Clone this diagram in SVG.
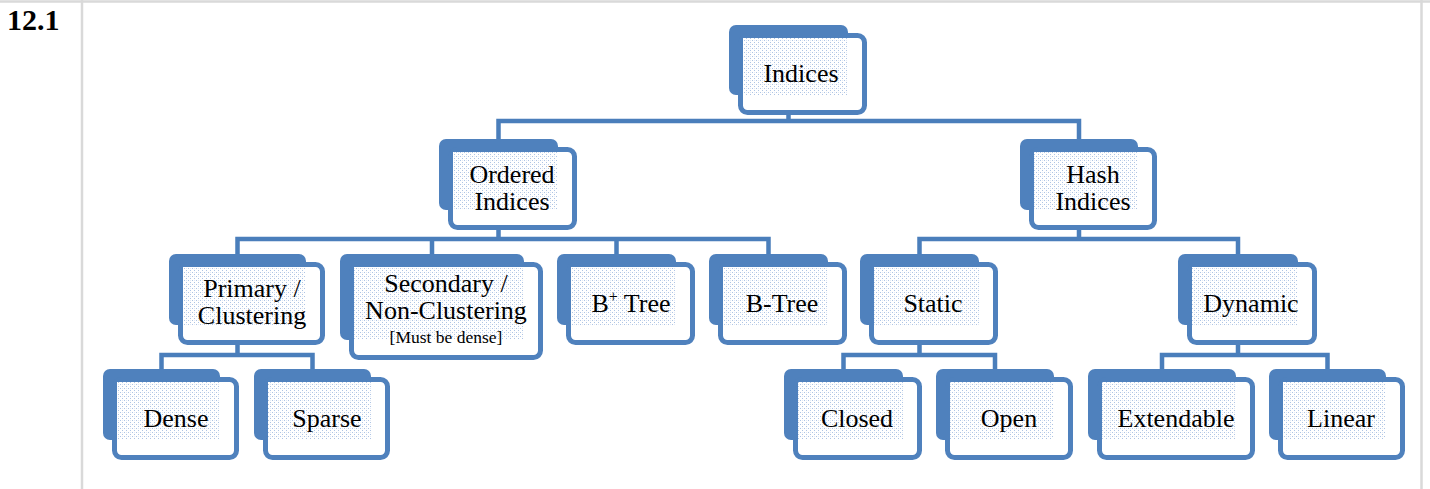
<svg xmlns="http://www.w3.org/2000/svg" width="1430" height="489" viewBox="0 0 1430 489">
  <style>
    .grid { stroke: #d9d9d9; stroke-width: 2.5; fill: none; }
    .back { fill: #4f81bd; }
    .front { fill: #ffffff; stroke: #4f81bd; stroke-width: 5; }
    .dots { fill: url(#dither); }
    .link { fill: none; stroke: #4a7ebb; stroke-width: 4.5; stroke-linejoin: miter; }
    .lbl { font-family: "Liberation Serif", "Times New Roman", serif; font-size: 26px; fill: #000; text-anchor: middle; }
    .note { font-size: 17.5px; }
    .num { font-family: "Liberation Serif", "Times New Roman", serif; font-size: 30px; font-weight: bold; fill: #000; }
  </style>
  <defs>
    <pattern id="dither" width="4" height="4" patternUnits="userSpaceOnUse">
      <rect width="4" height="4" fill="#ffffff"/>
      <rect x="0" y="0" width="1" height="1" fill="#aec4e4"/>
      <rect x="2" y="2" width="1" height="1" fill="#aec4e4"/>
      <rect x="2" y="0" width="1" height="1" fill="#e3eaf5"/>
    </pattern>
  </defs>

  <rect width="1430" height="489" fill="#ffffff"/>

  <!-- table cell borders -->
  <g id="table">
    <line class="grid" x1="0" y1="1.5" x2="1430" y2="1.5"/>
    <line class="grid" x1="82" y1="0" x2="82" y2="489"/>
    <line class="grid" x1="1421.5" y1="0" x2="1421.5" y2="489"/>
  </g>
  <text class="num" x="7" y="30">12.1</text>

  <!-- connectors -->
  <g id="connectors">
    <path class="link" d="M788.5 115 V121 M498.5 139 V121 H1079 V139"/>
    <path class="link" d="M498.5 230 V239 M237.5 254 V239 H768.5 V254 M432 239 V254 M616.5 239 V254"/>
    <path class="link" d="M1079 230 V239 M919.5 254 V239 H1238 V254"/>
    <path class="link" d="M237.5 345 V355 M161.5 369 V355 H312.5 V369"/>
    <path class="link" d="M919.5 345 V355 M843.5 369 V355 H995 V369"/>
    <path class="link" d="M1238 345 V355 M1162 369 V355 H1327.5 V369"/>
  </g>

  <!-- nodes: back plate, framed front card, tinted overlap, label -->
  <g id="n-indices">
    <rect class="back" x="729" y="25" width="119" height="70" rx="7"/>
    <rect class="front" x="740.5" y="35.5" width="124" height="77" rx="7"/>
    <rect class="dots" x="743" y="38" width="105" height="57"/>
    <text class="lbl" x="801" y="82">Indices</text>
  </g>
  <g id="n-ordered">
    <rect class="back" x="439" y="139" width="119" height="71" rx="7"/>
    <rect class="front" x="450.5" y="149.5" width="124" height="78" rx="7"/>
    <rect class="dots" x="453" y="152" width="105" height="58"/>
    <text class="lbl" x="512" y="183">Ordered</text>
    <text class="lbl" x="512" y="210">Indices</text>
  </g>
  <g id="n-hash">
    <rect class="back" x="1020" y="139" width="118" height="71" rx="7"/>
    <rect class="front" x="1031.5" y="149.5" width="123" height="78" rx="7"/>
    <rect class="dots" x="1034" y="152" width="104" height="58"/>
    <text class="lbl" x="1093" y="183">Hash</text>
    <text class="lbl" x="1093" y="210">Indices</text>
  </g>
  <g id="n-primary">
    <rect class="back" x="169" y="254" width="137" height="71" rx="7"/>
    <rect class="front" x="180.5" y="264.5" width="142" height="78" rx="7"/>
    <rect class="dots" x="183" y="267" width="123" height="58"/>
    <text class="lbl" x="252" y="297">Primary /</text>
    <text class="lbl" x="252" y="324">Clustering</text>
  </g>
  <g id="n-secondary">
    <rect class="back" x="340" y="254" width="184" height="86" rx="7"/>
    <rect class="front" x="351.5" y="264.5" width="189" height="93" rx="7"/>
    <rect class="dots" x="354" y="267" width="170" height="73"/>
    <text class="lbl" x="446" y="292">Secondary /</text>
    <text class="lbl" x="446" y="319">Non-Clustering</text>
    <text class="lbl note" x="446" y="343">[Must be dense]</text>
  </g>
  <g id="n-bplus">
    <rect class="back" x="557" y="254" width="119" height="71" rx="7"/>
    <rect class="front" x="568.5" y="264.5" width="124" height="78" rx="7"/>
    <rect class="dots" x="571" y="267" width="105" height="58"/>
    <text class="lbl" x="631" y="312">B<tspan font-size="16" dy="-10">+</tspan><tspan dy="10"> Tree</tspan></text>
  </g>
  <g id="n-btree">
    <rect class="back" x="709" y="254" width="119" height="71" rx="7"/>
    <rect class="front" x="720.5" y="264.5" width="124" height="78" rx="7"/>
    <rect class="dots" x="723" y="267" width="105" height="58"/>
    <text class="lbl" x="782" y="312">B-Tree</text>
  </g>
  <g id="n-static">
    <rect class="back" x="860" y="254" width="119" height="71" rx="7"/>
    <rect class="front" x="871.5" y="264.5" width="124" height="78" rx="7"/>
    <rect class="dots" x="874" y="267" width="105" height="58"/>
    <text class="lbl" x="933" y="312">Static</text>
  </g>
  <g id="n-dynamic">
    <rect class="back" x="1178" y="254" width="120" height="71" rx="7"/>
    <rect class="front" x="1189.5" y="264.5" width="125" height="78" rx="7"/>
    <rect class="dots" x="1192" y="267" width="106" height="58"/>
    <text class="lbl" x="1251" y="312">Dynamic</text>
  </g>
  <g id="n-dense">
    <rect class="back" x="103" y="369" width="117" height="71" rx="7"/>
    <rect class="front" x="114.5" y="379.5" width="122" height="78" rx="7"/>
    <rect class="dots" x="117" y="382" width="103" height="58"/>
    <text class="lbl" x="176" y="427">Dense</text>
  </g>
  <g id="n-sparse">
    <rect class="back" x="254" y="369" width="117" height="71" rx="7"/>
    <rect class="front" x="265.5" y="379.5" width="122" height="78" rx="7"/>
    <rect class="dots" x="268" y="382" width="103" height="58"/>
    <text class="lbl" x="327" y="427">Sparse</text>
  </g>
  <g id="n-closed">
    <rect class="back" x="784" y="369" width="119" height="71" rx="7"/>
    <rect class="front" x="795.5" y="379.5" width="124" height="78" rx="7"/>
    <rect class="dots" x="798" y="382" width="105" height="58"/>
    <text class="lbl" x="857" y="427">Closed</text>
  </g>
  <g id="n-open">
    <rect class="back" x="936" y="369" width="118" height="71" rx="7"/>
    <rect class="front" x="947.5" y="379.5" width="123" height="78" rx="7"/>
    <rect class="dots" x="950" y="382" width="104" height="58"/>
    <text class="lbl" x="1009" y="427">Open</text>
  </g>
  <g id="n-extendable">
    <rect class="back" x="1088" y="369" width="148" height="71" rx="7"/>
    <rect class="front" x="1099.5" y="379.5" width="153" height="78" rx="7"/>
    <rect class="dots" x="1102" y="382" width="134" height="58"/>
    <text class="lbl" x="1176" y="427">Extendable</text>
  </g>
  <g id="n-linear">
    <rect class="back" x="1269" y="369" width="117" height="71" rx="7"/>
    <rect class="front" x="1280.5" y="379.5" width="122" height="78" rx="7"/>
    <rect class="dots" x="1283" y="382" width="103" height="58"/>
    <text class="lbl" x="1341" y="427">Linear</text>
  </g>
</svg>
